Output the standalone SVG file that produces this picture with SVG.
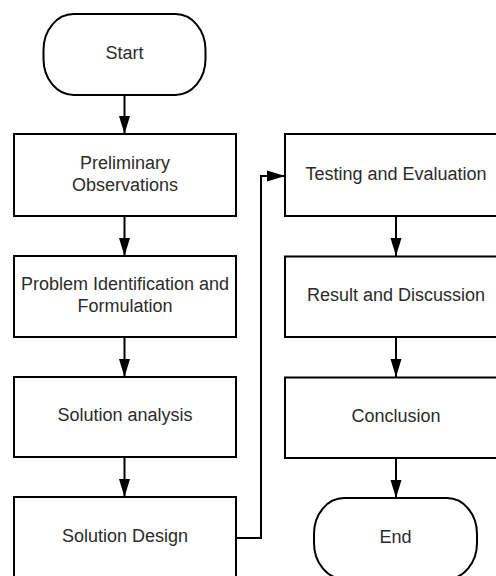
<svg xmlns="http://www.w3.org/2000/svg" width="496" height="576" viewBox="0 0 496 576">
  <style>
    .box { fill: #ffffff; stroke: #000000; stroke-width: 2; }
    .lbl { font-family: "Liberation Sans", Arial, sans-serif; font-size: 18px; fill: #2b2b2b; text-anchor: middle; }
    .conn { fill: none; stroke: #000000; stroke-width: 2; }
  </style>
  <defs>
    <marker id="arrow" markerUnits="userSpaceOnUse" markerWidth="20" markerHeight="12" refX="18" refY="6" orient="auto">
      <path d="M0,0.5 L18,6 L0,11.5 Z" fill="#000000"/>
    </marker>
  </defs>
  <rect width="496" height="576" fill="#ffffff"/>

  <g id="connectors">
    <line class="conn" x1="124.5" y1="95" x2="124.5" y2="134" marker-end="url(#arrow)"/>
    <line class="conn" x1="124.5" y1="216" x2="124.5" y2="256" marker-end="url(#arrow)"/>
    <line class="conn" x1="124.5" y1="337" x2="124.5" y2="377" marker-end="url(#arrow)"/>
    <line class="conn" x1="124.5" y1="457" x2="124.5" y2="497" marker-end="url(#arrow)"/>
    <polyline class="conn" points="236,538 261,538 261,176 285,176" marker-end="url(#arrow)"/>
    <line class="conn" x1="396" y1="216" x2="396" y2="256" marker-end="url(#arrow)"/>
    <line class="conn" x1="396" y1="337" x2="396" y2="377" marker-end="url(#arrow)"/>
    <line class="conn" x1="396" y1="458" x2="396" y2="498" marker-end="url(#arrow)"/>
  </g>

  <g id="start">
    <rect class="box" x="43.5" y="14" width="162" height="81" rx="30" ry="36"/>
    <text class="lbl" x="124.5" y="58.5">Start</text>
  </g>
  <g id="preliminary">
    <rect class="box" x="14" y="134" width="222" height="82"/>
    <text class="lbl" x="125" y="169">Preliminary</text>
    <text class="lbl" x="125" y="191">Observations</text>
  </g>
  <g id="problem">
    <rect class="box" x="14" y="256" width="222" height="81"/>
    <text class="lbl" x="125" y="290">Problem Identification and</text>
    <text class="lbl" x="125" y="311.5">Formulation</text>
  </g>
  <g id="analysis">
    <rect class="box" x="14" y="377" width="222" height="80"/>
    <text class="lbl" x="125" y="421">Solution analysis</text>
  </g>
  <g id="design">
    <rect class="box" x="14" y="497" width="222" height="82"/>
    <text class="lbl" x="125" y="542">Solution Design</text>
  </g>
  <g id="testing">
    <rect class="box" x="285" y="134" width="222" height="82"/>
    <text class="lbl" x="396" y="180">Testing and Evaluation</text>
  </g>
  <g id="result">
    <rect class="box" x="285" y="256.5" width="222" height="80.5"/>
    <text class="lbl" x="396" y="301">Result and Discussion</text>
  </g>
  <g id="conclusion">
    <rect class="box" x="285" y="377.5" width="222" height="80.5"/>
    <text class="lbl" x="396" y="422">Conclusion</text>
  </g>
  <g id="end">
    <rect class="box" x="314" y="498" width="163" height="81" rx="30" ry="36"/>
    <text class="lbl" x="395.5" y="542.5">End</text>
  </g>
</svg>
